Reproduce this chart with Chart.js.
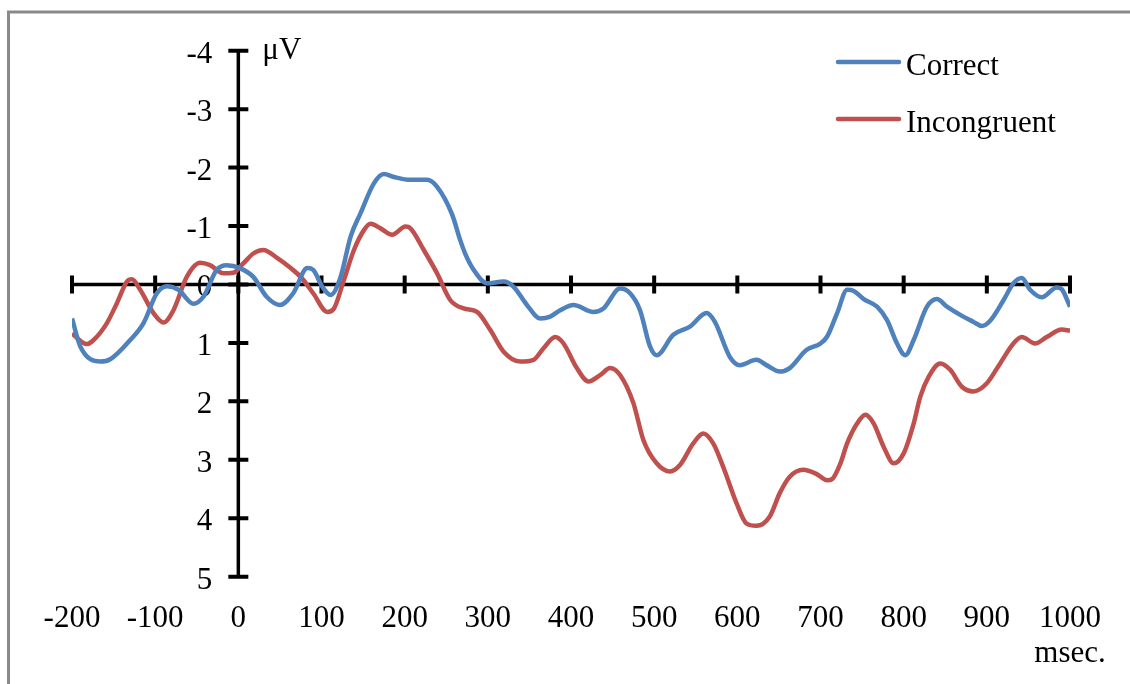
<!DOCTYPE html>
<html>
<head>
<meta charset="utf-8">
<script src="https://cdn.jsdelivr.net/npm/chart.js@4/dist/chart.umd.min.js"></script>
<style>
html,body{margin:0;padding:0;background:#fff;}
#wrap{width:1130px;height:684px;position:relative;}
</style>
</head>
<body>
<div id="wrap"><canvas id="c" width="1130" height="684"></canvas></div>
<script>
// ---- data (time in msec, amplitude in microvolts) ----
const seriesNames = ["Correct", "Incongruent"];
const xTicks = [-200,-100,0,100,200,300,400,500,600,700,800,900,1000];
const yTicks = [-4,-3,-2,-1,0,1,2,3,4,5];

const correctTimes = [-200,-190,-166,-154,-130,-114,-98,-86,-72,-54,-42,-26,-14,2,18,34,50,66,83,90,101,111,123,135,147,163,175,187,207,227,239,257,267,273,283,299,319,331,347,363,375,387,403,427,439,459,471,483,495,503,523,543,563,573,591,603,623,635,651,663,683,700,708,720,732,740,752,768,780,792,802,812,828,840,852,868,884,894,904,920,932,942,952,966,984,990,1000];
const correctValues = [0.58,1.06,1.32,1.28,0.95,0.66,0.15,0.03,0.09,0.33,0.21,-0.25,-0.33,-0.28,-0.13,0.21,0.35,0.15,-0.28,-0.25,0.04,0.18,-0.13,-0.82,-1.22,-1.73,-1.89,-1.84,-1.79,-1.79,-1.67,-1.2,-0.75,-0.52,-0.25,-0.02,-0.05,0.04,0.35,0.58,0.55,0.44,0.35,0.47,0.41,0.07,0.15,0.44,1.06,1.21,0.86,0.72,0.49,0.64,1.24,1.38,1.29,1.38,1.49,1.43,1.12,1.01,0.89,0.49,0.09,0.11,0.25,0.38,0.61,1.01,1.21,0.95,0.38,0.25,0.38,0.52,0.64,0.71,0.62,0.27,-0.02,-0.11,0.09,0.22,0.05,0.08,0.38];

const incongTimes = [-200,-182,-174,-158,-146,-134,-128,-118,-102,-90,-78,-62,-46,-34,-18,-6,6,18,30,47,63,75,90,107,115,127,139,151,159,171,185,201,207,223,239,255,271,287,303,319,339,355,367,381,391,407,421,435,447,459,475,487,503,519,531,547,559,571,583,599,611,623,639,651,663,679,695,708,714,724,732,744,754,764,776,788,800,812,820,830,844,856,870,884,900,916,932,942,958,972,990,1000];
const incongValues = [0.84,1.02,0.95,0.66,0.32,-0.05,-0.09,0.09,0.49,0.65,0.44,-0.13,-0.37,-0.33,-0.19,-0.2,-0.36,-0.53,-0.59,-0.45,-0.28,-0.13,0.15,0.47,0.41,-0.08,-0.59,-0.93,-1.04,-0.96,-0.85,-0.99,-0.96,-0.59,-0.19,0.27,0.41,0.47,0.78,1.15,1.32,1.29,1.09,0.9,1.01,1.43,1.66,1.55,1.43,1.55,2.03,2.66,3.06,3.2,3.09,2.72,2.55,2.72,3.12,3.74,4.09,4.13,3.97,3.57,3.29,3.17,3.24,3.35,3.33,3.06,2.72,2.38,2.23,2.38,2.78,3.06,2.89,2.38,1.92,1.58,1.35,1.46,1.75,1.83,1.69,1.35,1.01,0.9,1.01,0.9,0.77,0.79];

const colors = ["#4F81BD", "#C0504D"];
const FONT = '31px "Liberation Serif", "Times New Roman", serif';

function pts(t, v){ return t.map((x,i)=>({x:x, y:v[i]})); }

const axesPlugin = {
  id: 'erpAxes',
  beforeDatasetsDraw(chart){
    const ctx = chart.ctx;
    const xs = chart.scales.x, ys = chart.scales.y;
    const x0 = xs.getPixelForValue(0), y0 = ys.getPixelForValue(0);
    const xl = xs.getPixelForValue(xTicks[0]), xr = xs.getPixelForValue(xTicks[xTicks.length-1]);
    const yt = ys.getPixelForValue(yTicks[0]), yb = ys.getPixelForValue(yTicks[yTicks.length-1]);
    ctx.save();
    // outer frame (top and left)
    ctx.strokeStyle = '#8a8a8a';
    ctx.lineWidth = 3;
    ctx.beginPath();
    ctx.moveTo(8.5, 1130); ctx.lineTo(8.5, 12); ctx.lineTo(1130, 12);
    ctx.stroke();

    ctx.strokeStyle = '#000';
    ctx.lineWidth = 3.5;
    ctx.lineCap = 'butt';
    ctx.beginPath();
    ctx.moveTo(x0, yt); ctx.lineTo(x0, yb);
    ctx.moveTo(xl, y0); ctx.lineTo(xr, y0);
    ctx.stroke();
    ctx.lineWidth = 4;
    ctx.beginPath();
    yTicks.forEach(v=>{ const y = ys.getPixelForValue(v); ctx.moveTo(x0-10, y); ctx.lineTo(x0+10, y); });
    xTicks.forEach(v=>{ const x = xs.getPixelForValue(v); ctx.moveTo(x, y0-9); ctx.lineTo(x, y0+9); });
    ctx.stroke();

    ctx.fillStyle = '#000';
    ctx.font = FONT;
    ctx.textBaseline = 'alphabetic';
    ctx.textAlign = 'right';
    yTicks.forEach(v=>{ ctx.fillText(String(v), x0-26, ys.getPixelForValue(v)+12); });
    ctx.textAlign = 'center';
    xTicks.forEach(v=>{ ctx.fillText(String(v), xs.getPixelForValue(v), 627); });
    ctx.fillText('msec.', xr, 662);
    ctx.textAlign = 'left';
    ctx.fillText('\u03BCV', x0+24, 59);

    // legend
    seriesNames.forEach((n,i)=>{
      const ly = 62 + i*57;
      ctx.strokeStyle = colors[i];
      ctx.lineWidth = 4.5;
      ctx.lineCap = 'round';
      ctx.beginPath(); ctx.moveTo(838, ly); ctx.lineTo(899, ly); ctx.stroke();
      ctx.fillStyle = '#000';
      ctx.fillText(n, 906, ly + 13);
    });
    ctx.restore();
  }
};

new Chart(document.getElementById('c'), {
  type: 'line',
  data: {
    datasets: [
      { label: seriesNames[0], data: pts(correctTimes, correctValues), borderColor: colors[0], borderWidth: 4.5, pointRadius: 0, tension: 0.4, cubicInterpolationMode: 'monotone', fill: false },
      { label: seriesNames[1], data: pts(incongTimes, incongValues), borderColor: colors[1], borderWidth: 4.5, pointRadius: 0, tension: 0.4, cubicInterpolationMode: 'monotone', fill: false }
    ]
  },
  options: {
    responsive: false,
    animation: false,
    layout: { padding: { left: 72, right: 60, top: 50.7, bottom: 107.3 } },
    plugins: { legend: { display: false }, tooltip: { enabled: false } },
    scales: {
      x: { type: 'linear', min: -200, max: 1000, display: false },
      y: { type: 'linear', min: -4, max: 5, reverse: true, display: false }
    }
  },
  plugins: [axesPlugin]
});
</script>
</body>
</html>
